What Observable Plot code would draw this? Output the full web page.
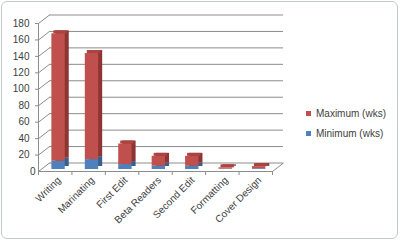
<!DOCTYPE html>
<html>
<head>
<meta charset="utf-8">
<script src="https://cdn.jsdelivr.net/npm/d3@7"></script>
<script src="https://cdn.jsdelivr.net/npm/@observablehq/plot@0.6"></script>
<style>
  html, body { margin: 0; padding: 0; background: #ffffff; }
  #wrap { position: relative; width: 400px; height: 240px; overflow: hidden; font-family: "Liberation Sans", Arial, sans-serif; }
  #frame { position: absolute; left: 1px; top: 1px; width: 395px; height: 236px; border: 1px solid #c3c8cf; border-radius: 6px; }
  #chart { position: absolute; left: 0; top: 0; }
  #legend { position: absolute; left: 306px; top: 103px; font-size: 10px; color: #404040; }
  .item { display: flex; align-items: center; height: 20px; }
  .sw { width: 5px; height: 5px; margin-right: 5px; }
</style>
</head>
<body>
<div id="wrap">
  <div id="frame"></div>
  <div id="chart"></div>
  <div id="legend"></div>
</div>
<script>
const categories = ["Writing", "Marinating", "First Edit", "Beta Readers", "Second Edit", "Formatting", "Cover Design"];
const minimumWks = [10, 12, 6, 4, 4, 0.5, 1];
const maximumWks = [155, 129, 25, 12, 12, 1.5, 2.5];
const yTicks = [0, 20, 40, 60, 80, 100, 120, 140, 160, 180];
const seriesNames = ["Maximum (wks)", "Minimum (wks)"];
const seriesColors = ["#c0504d", "#4f81bd"];

const rows = categories.map((c, i) => ({
  i, c, min: minimumWks[i], max: maximumWks[i], total: minimumWks[i] + maximumWks[i]
}));

const W = 400, H = 240, mL = 38, mR = 128, mT = 23, mB = 69;
const depthX = 11, depthY = 8.5;
const ux = categories.length / (W - mL - mR);
const uy = 180 / (H - mT - mB);
const grid = "#8c8c8c";
const red = seriesColors[0], blue = seriesColors[1];
const redSide = "#8c3533", redTop = "#ad4341", blueSide = "#3a5f8c";
const bx1 = d => d.i + 0.4, bx2 = d => d.i + 0.8;

const chart = Plot.plot({
  width: W, height: H,
  marginLeft: mL, marginRight: mR, marginTop: mT, marginBottom: mB,
  x: { type: "linear", domain: [0, categories.length] },
  y: { domain: [0, 180] },
  style: { fontFamily: "Liberation Sans, Arial, sans-serif", fontSize: "10px", color: "#404040", background: "transparent" },
  marks: [
    Plot.ruleY(yTicks, { x1: 0, x2: categories.length, dx: depthX, dy: -depthY, stroke: grid }),
    Plot.link(yTicks, { x1: 0, y1: d => d, x2: depthX * ux, y2: d => d + depthY * uy, stroke: grid }),
    Plot.link([0], { x1: categories.length, y1: 0, x2: categories.length + depthX * ux, y2: depthY * uy, stroke: grid }),
    Plot.ruleY([0], { x1: 0, x2: categories.length, stroke: grid }),
    Plot.ruleX([0], { y1: 0, y2: 180, stroke: grid }),
    Plot.axisY({ ticks: yTicks.slice(1), tickSize: 3, tickPadding: 6, label: null, stroke: grid }),
    Plot.axisY({ ticks: [0], tickSize: 0, tickPadding: 3, label: null }),
    Plot.axisX({ ticks: d3.range(categories.length + 1), tickSize: 4, tickFormat: () => "", label: null, stroke: grid }),
    Plot.axisX({ ticks: d3.range(categories.length).map(i => i + 0.5), tickSize: 0, tickPadding: 7, tickRotate: -45, dx: 4,
      tickFormat: d => categories[Math.floor(d)], label: null }),
    // side/depth faces
    Plot.rect(rows, { x1: bx1, x2: bx2, y1: 0, y2: d => d.min, fill: blueSide, dx: 4, dy: -5 }),
    Plot.rect(rows, { x1: bx1, x2: bx2, y1: d => d.min, y2: d => d.total, fill: redSide, dx: 4, dy: -5 }),
    // top face
    Plot.rect(rows, { x1: bx1, x2: bx2, y1: d => d.total, y2: d => d.total, insetTop: -3, fill: redTop, dx: 2, dy: -2 }),
    // front faces
    Plot.rect(rows, { x1: bx1, x2: bx2, y1: 0, y2: d => d.min, fill: blue, dy: -2 }),
    Plot.rect(rows, { x1: bx1, x2: bx2, y1: d => d.min, y2: d => d.total, fill: red, dy: -2 })
  ]
});
document.getElementById("chart").appendChild(chart);

const legend = document.getElementById("legend");
seriesNames.forEach((n, k) => {
  const item = document.createElement("div");
  item.className = "item";
  const sw = document.createElement("span");
  sw.className = "sw";
  sw.style.background = seriesColors[k];
  const t = document.createElement("span");
  t.textContent = n;
  item.appendChild(sw);
  item.appendChild(t);
  legend.appendChild(item);
});
</script>
</body>
</html>
